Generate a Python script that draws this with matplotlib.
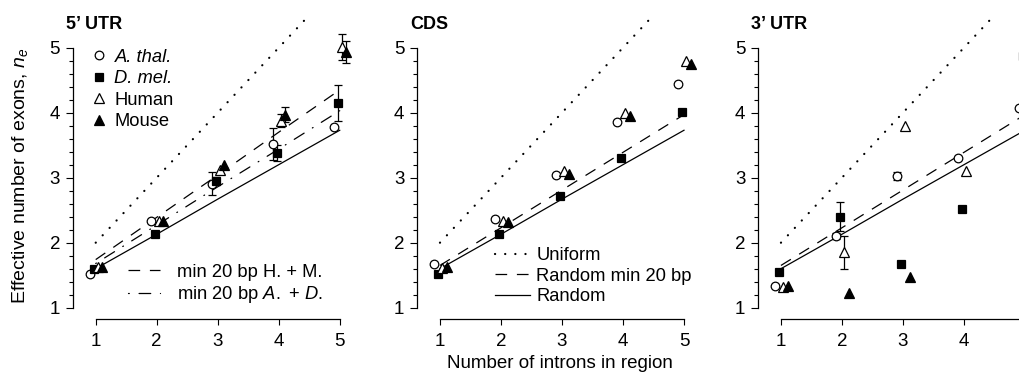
import numpy as np
import matplotlib
matplotlib.use('Agg')
import matplotlib.pyplot as plt
from matplotlib.lines import Line2D

plt.rcParams['font.family'] = ['Liberation Sans', 'DejaVu Sans']
plt.rcParams['mathtext.fontset'] = 'custom'
plt.rcParams['mathtext.rm'] = 'Liberation Sans'
plt.rcParams['mathtext.it'] = 'Liberation Sans:italic'
plt.rcParams['lines.scale_dashes'] = False

# Data
introns = np.array([1, 2, 3, 4, 5])

# model curves
uniform = [2, 3, 4, 5, 6]
random_ = [1.60, 2.13, 2.67, 3.20, 3.73]
random_min20 = [1.65, 2.23, 2.81, 3.39, 3.97]
min20_hm = [1.74, 2.39, 3.04, 3.70, 4.35]
min20_ad = [1.68, 2.27, 2.86, 3.44, 4.03]

species = ['A. thal.', 'D. mel.', 'Human', 'Mouse']
offsets = [-0.1, -0.03, 0.04, 0.11]

# 5' UTR
utr5_ath = [1.52, 2.33, 2.91, 3.52, 3.78]
utr5_ath_err = [0, 0, 0.18, 0.25, 0]
utr5_dme = [1.60, 2.14, 2.95, 3.38, 4.15]
utr5_dme_err = [0, 0, 0.06, 0.13, 0.27]
utr5_hum = [1.62, 2.34, 3.12, 3.88, 5.01]
utr5_hum_err = [0, 0, 0, 0.10, 0.20]
utr5_mou = [1.63, 2.34, 3.19, 3.97, 4.94]
utr5_mou_err = [0, 0, 0, 0.12, 0.17]

# CDS
cds_ath = [1.67, 2.36, 3.04, 3.85, 4.44]
cds_dme = [1.52, 2.13, 2.72, 3.30, 4.01]
cds_hum = [1.61, 2.33, 3.10, 3.99, 4.80]
cds_mou = [1.63, 2.32, 3.05, 3.95, 4.75]
cds_err = [0, 0, 0, 0, 0]

# 3' UTR
utr3_ath = [1.33, 2.10, 3.03, 3.31, 4.08]
utr3_ath_err = [0, 0.05, 0.06, 0, 0]
utr3_dme = [1.55, 2.40, 1.67, 2.52, 4.87]
utr3_dme_err = [0, 0.22, 0, 0, 0]
utr3_hum = [1.32, 1.85, 3.80, 3.10, np.nan]
utr3_hum_err = [0, 0.25, 0, 0, 0]
utr3_mou = [1.33, 1.23, 1.47, np.nan, np.nan]
utr3_mou_err = [0, 0, 0, 0, 0]

panels = [
    ("5\u2019 UTR",
     [(utr5_ath, utr5_ath_err), (utr5_dme, utr5_dme_err),
      (utr5_hum, utr5_hum_err), (utr5_mou, utr5_mou_err)]),
    ("CDS",
     [(cds_ath, cds_err), (cds_dme, cds_err),
      (cds_hum, cds_err), (cds_mou, cds_err)]),
    ("3\u2019 UTR",
     [(utr3_ath, utr3_ath_err), (utr3_dme, utr3_dme_err),
      (utr3_hum, utr3_hum_err), (utr3_mou, utr3_mou_err)]),
]

# styling
marker_styles = [
    dict(marker='o', mfc='white', mec='black', ms=6.2),
    dict(marker='s', mfc='black', mec='black', ms=5.6),
    dict(marker='^', mfc='white', mec='black', ms=7.2),
    dict(marker='^', mfc='black', mec='black', ms=7.2),
]
dotted = dict(color='black', lw=1.6, dashes=(0.1, 7.2), dash_capstyle='round')
dashed = dict(color='black', lw=0.9, dashes=(8.4, 7.0))
dashdot = dict(color='black', lw=0.9, dashes=(0.6, 7.0, 8.4, 7.0), dash_capstyle='round')
solid = dict(color='black', lw=0.9)

fig = plt.figure(figsize=(10.2, 3.8), dpi=100)
lefts = [0.0711, 0.4086, 0.7429]
axes = []
for i, (title, series) in enumerate(panels):
    ax = fig.add_axes([lefts[i], 0.1605, 0.2859, 0.7995])
    axes.append(ax)
    ax.set_xlim(0.62, 5.4)
    ax.set_ylim(0.826, 5.5)

    # model lines
    ax.plot(introns, uniform, **dotted)
    if i == 0:
        ax.plot(introns, min20_hm, **dashed)
        ax.plot(introns, min20_ad, **dashdot)
    else:
        ax.plot(introns, random_min20, **dashed)
    ax.plot(introns, random_, **solid)

    # data points with error bars
    for j, (vals, errs) in enumerate(series):
        x = introns + offsets[j]
        vals = np.array(vals, dtype=float)
        errs = np.array(errs, dtype=float)
        m = errs > 0
        if m.any():
            ax.errorbar(x[m], vals[m], yerr=errs[m], fmt='none', ecolor='black',
                        elinewidth=0.9, capsize=2.6, capthick=0.9, zorder=3)
        ax.plot(x, vals, ls='none', mew=0.9, zorder=4 + j, **marker_styles[j])

    for s in ['top', 'right']:
        ax.spines[s].set_visible(False)
    ax.spines['left'].set_bounds(1, 5)
    ax.spines['bottom'].set_bounds(1, 5)
    ax.spines['left'].set_linewidth(0.9)
    ax.spines['bottom'].set_linewidth(0.9)
    ax.set_xticks([1, 2, 3, 4, 5])
    ax.set_yticks([1, 2, 3, 4, 5])
    ax.set_yticks(np.arange(1.2, 5.0, 0.2), minor=True)
    ax.tick_params(axis='y', which='major', length=5, width=0.8, labelsize=13.5, pad=4)
    ax.tick_params(axis='y', which='minor', length=3, width=0.8)
    ax.tick_params(axis='x', which='major', length=4.3, width=0.8, labelsize=13.5, pad=6)

    ax.text(-7 / 291.6, 0.955, title, transform=ax.transAxes, fontsize=13,
            fontweight='bold', va='baseline', ha='left')

# legends
ax1, ax2, ax3 = axes
sp_handles = [Line2D([], [], ls='none', mew=0.9, **st) for st in marker_styles]
leg = ax1.legend(sp_handles, species, loc='upper left', bbox_to_anchor=(0.062, 0.89),
                 frameon=False, fontsize=13.2, handlelength=0.95, handletextpad=0.35,
                 labelspacing=0.25, borderpad=0, borderaxespad=0)
for t in leg.get_texts()[:2]:
    t.set_fontstyle('italic')
ax1.add_artist(leg)

ln_handles = [Line2D([], [], **dashed), Line2D([], [], **dashdot)]
ax1.legend(ln_handles, ['min 20 bp H. + M.', r'min 20 bp $A.$ + $D.$'],
           loc='lower left', bbox_to_anchor=(0.19, 0.045), frameon=False,
           fontsize=13.2, handlelength=1.75, handletextpad=0.95, labelspacing=0.2,
           borderpad=0, borderaxespad=0)

md_handles = [Line2D([], [], **dotted), Line2D([], [], **dashed), Line2D([], [], **solid)]
ax2.legend(md_handles, ['Uniform', 'Random min 20 bp', 'Random'],
           loc='lower left', bbox_to_anchor=(0.268, 0.045), frameon=False,
           fontsize=13.2, handlelength=1.9, handletextpad=0.35, labelspacing=0.2,
           borderpad=0, borderaxespad=0)

fig.text(20 / 1020, 1 - 176 / 380, r'Effective number of exons, $n_e$',
         rotation=90, ha='center', va='center', fontsize=14)
fig.text(560 / 1020, 1 - 363 / 380, 'Number of introns in region',
         ha='center', va='center', fontsize=13.5)

fig.savefig('out.png', dpi=100)
